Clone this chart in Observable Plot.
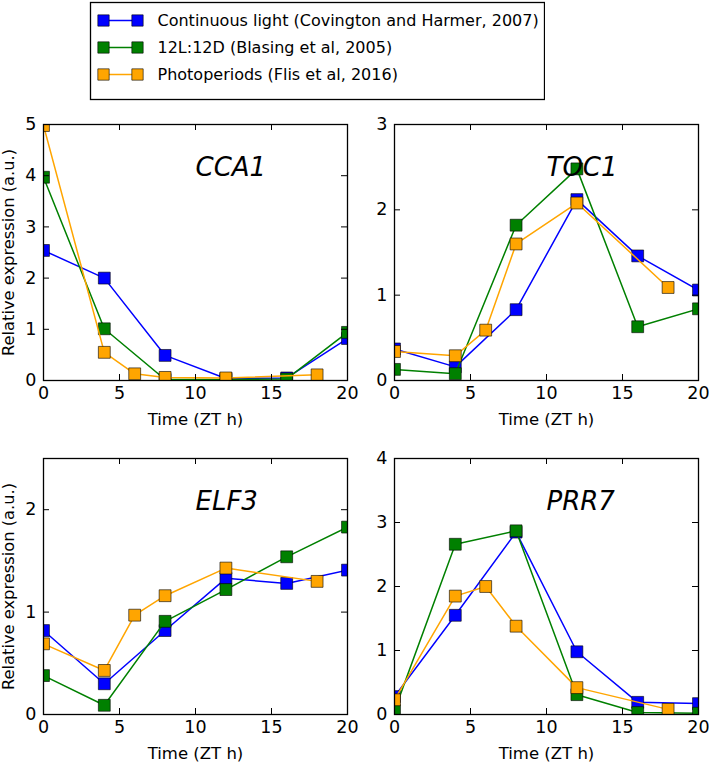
<!DOCTYPE html>
<html><head><meta charset="utf-8">
<script src="https://cdn.jsdelivr.net/npm/d3@7"></script>
<script src="https://cdn.jsdelivr.net/npm/@observablehq/plot@0.6"></script>
<style>
body{margin:0;background:#fff;}
#chart{position:relative;width:709px;height:762px;overflow:hidden;font-family:"DejaVu Sans",sans-serif;background:#fff;}
#chart > svg{position:absolute;}
</style></head><body><div id="chart"></div>
<script>
const seriesNames = ["Continuous light (Covington and Harmer, 2007)", "12L:12D (Blasing et al, 2005)", "Photoperiods (Flis et al, 2016)"];
const seriesColors = ["#0000ff", "#008000", "#ffa500"];
const timesLL = [0, 4, 8, 12, 16, 20];
const timesLD = [0, 4, 8, 12, 16, 20];
const timesPP = [0, 4, 6, 8, 12, 18];
const genes = ["CCA1", "TOC1", "ELF3", "PRR7"];

const cca1LL = [2.54, 2.0, 0.49, 0.04, 0.05, 0.82];
const cca1LD = [3.97, 1.01, 0.02, 0.02, 0.03, 0.94];
const cca1PP = [4.98, 0.55, 0.13, 0.06, 0.05, 0.11];

const toc1LL = [0.37, 0.16, 0.83, 2.12, 1.46, 1.06];
const toc1LD = [0.13, 0.08, 1.82, 2.48, 0.63, 0.84];
const toc1PP = [0.34, 0.29, 0.59, 1.60, 2.08, 1.09];

const elf3LL = [0.82, 0.30, 0.82, 1.33, 1.28, 1.41];
const elf3LD = [0.38, 0.09, 0.91, 1.22, 1.54, 1.83];
const elf3PP = [0.69, 0.43, 0.97, 1.16, 1.43, 1.30];

const prr7LL = [0.28, 1.55, 2.85, 0.98, 0.19, 0.17];
const prr7LD = [0.06, 2.66, 2.87, 0.31, 0.03, 0.02];
const prr7PP = [0.23, 1.85, 2.00, 1.38, 0.42, 0.08];

const yMax = [5, 3, 2.5, 4];
const yTicks = [[0, 1, 2, 3, 4, 5], [0, 1, 2, 3], [0, 1, 2], [0, 1, 2, 3, 4]];
const xTicks = [0, 5, 10, 15, 20];
const xLabel = "Time (ZT h)";
const yLabel = "Relative expression (a.u.)";

const geneValues = [
  [cca1LL, cca1LD, cca1PP],
  [toc1LL, toc1LD, toc1PP],
  [elf3LL, elf3LD, elf3PP],
  [prr7LL, prr7LD, prr7PP]
];
const seriesTimes = [timesLL, timesLD, timesPP];

const chart = document.getElementById("chart");
const font = "DejaVu Sans";

// Legend
const legendRows = seriesNames.flatMap((s, i) => [{s, k: 0, i}, {s, k: 1, i}]);
const legend = Plot.plot({
  width: 456, height: 101,
  marginLeft: 1, marginRight: 1, marginTop: 2, marginBottom: 2,
  style: {fontFamily: font, fontSize: "16px", color: "black", background: "transparent"},
  x: {domain: [0, 1], range: [14, 48], axis: null},
  y: {type: "point", domain: seriesNames, range: [20, 74], padding: 0, axis: null},
  marks: [
    Plot.frame({stroke: "black", strokeWidth: 1.3}),
    ...seriesNames.map((s, i) => Plot.line(legendRows.filter(d => d.i === i), {x: "k", y: "s", stroke: seriesColors[i], strokeWidth: 1.5})),
    ...seriesNames.map((s, i) => Plot.dot(legendRows.filter(d => d.i === i), {x: "k", y: "s", symbol: "square", r: 6.4, fill: seriesColors[i], stroke: "black", strokeWidth: 0.6})),
    Plot.text(seriesNames, {x: () => 1, y: d => d, text: d => d, dx: 20, textAnchor: "start", fontSize: 16, fill: "black"})
  ]
});
legend.style.left = "89px";
legend.style.top = "0px";
chart.appendChild(legend);

const W = 355, H = 336, mL = 43, mR = 8, mT = 34, mB = 46;
const innerW = W - mL - mR, innerH = H - mT - mB;

function panel(gi, left, top, showYLabel) {
  const marks = [];
  seriesNames.forEach((s, si) => {
    const d = seriesTimes[si].map((t, j) => ({t, v: geneValues[gi][si][j]}));
    marks.push(Plot.line(d, {x: "t", y: "v", stroke: seriesColors[si], strokeWidth: 1.5, clip: true}));
    marks.push(Plot.dot(d, {x: "t", y: "v", symbol: "square", r: 6.7, fill: seriesColors[si], stroke: "black", strokeWidth: 0.6, clip: true}));
  });
  const p = Plot.plot({
    width: W, height: H,
    marginLeft: mL, marginRight: mR, marginTop: mT, marginBottom: mB,
    style: {fontFamily: font, fontSize: "16px", color: "black", background: "transparent", overflow: "visible"},
    x: {domain: [0, 20]},
    y: {domain: [0, yMax[gi]]},
    marks: [
      Plot.axisX(xTicks, {tickSize: 0, tickPadding: 6, fontSize: 17.5, tickFormat: d3.format("d"), label: null}),
      Plot.axisX({ticks: [], tickSize: 0, label: xLabel, labelAnchor: "center", labelArrow: "none", labelOffset: 44, fontSize: 16.5}),
      Plot.axisY(yTicks[gi], {tickSize: 0, tickPadding: 7, fontSize: 17.5, tickFormat: d3.format("d"), label: null}),
      ...(showYLabel ? [Plot.axisY({ticks: [], tickSize: 0, label: yLabel, labelAnchor: "center", labelArrow: "none", labelOffset: 41, fontSize: 16.3})] : []),
      ...marks,
      Plot.tickX(xTicks, {x: d => d, insetTop: innerH - 6, stroke: "black", strokeWidth: 1}),
      Plot.tickX(xTicks, {x: d => d, insetBottom: innerH - 6, stroke: "black", strokeWidth: 1}),
      Plot.tickY(yTicks[gi], {y: d => d, insetRight: innerW - 6, stroke: "black", strokeWidth: 1}),
      Plot.tickY(yTicks[gi], {y: d => d, insetLeft: innerW - 6, stroke: "black", strokeWidth: 1}),
      Plot.frame({stroke: "black", strokeWidth: 1.3}),
      Plot.text([genes[gi]], {frameAnchor: "top-left", dx: 152, dy: 43, text: d => d, fontSize: 26, fontStyle: "italic", textAnchor: "start", lineAnchor: "middle", fill: "black"})
    ]
  });
  p.style.left = left + "px";
  p.style.top = top + "px";
  chart.appendChild(p);
}

panel(0, 0, 90, true);
panel(1, 351, 90, false);
panel(2, 0, 424, true);
panel(3, 351, 424, false);
</script>
</body></html>
